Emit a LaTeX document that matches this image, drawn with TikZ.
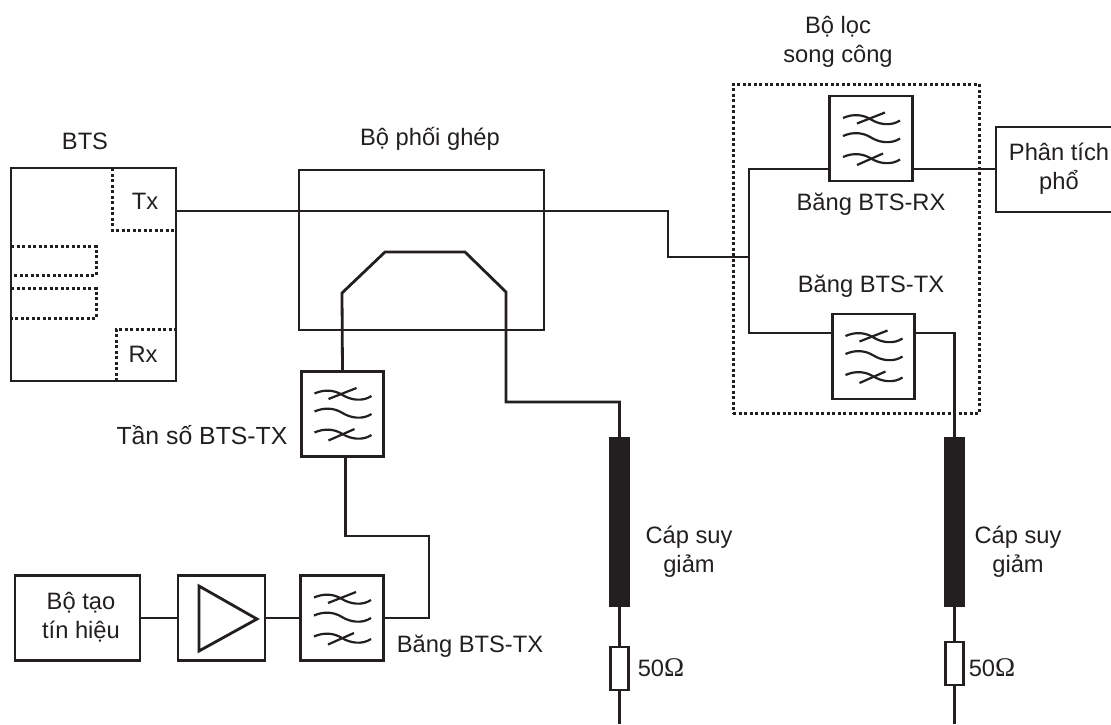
\documentclass[tikz,border=0pt]{standalone}
\usepackage{fontspec}
\setmainfont{Liberation Sans}
\newfontfamily\omegafont{Liberation Serif}
\definecolor{ink}{HTML}{231F20}
\newcommand{\ohmsign}{{\omegafont\fontsize{27}{29}\selectfont Ω}}
\tikzset{
  every node/.style={text=ink},
  line/.style={draw=ink,line width=2.8pt,line join=miter},
  dots/.style={draw=ink,line width=3pt,dash pattern=on 3pt off 2.5pt},
  box/.style={line,fill=white,rectangle,inner sep=0pt,outer sep=0pt,minimum width=#1},
  label/.style={font=\fontsize{23.7}{29}\selectfont,align=center,inner sep=0pt},
  filterbox/.style={box=82.5pt,minimum height=85pt},
  cable/.style={draw=ink,fill=ink,rectangle,inner sep=0pt,outer sep=0pt,minimum width=20pt,minimum height=169pt},
  load/.style={box=18.5pt,minimum height=43pt},
  waves/.pic={
    \foreach \dy in {-19,-1,20}{
      \draw[ink,line width=2.2pt,shift={(0,\dy)}] (-28,-1.5) .. controls (-18,-6) and (-8,-5) .. (0,0) .. controls (8,5) and (20,7) .. (29,1);
    }
    \draw[ink,line width=2.2pt] (-14,-15) -- (14,-26);
    \draw[ink,line width=2.2pt] (-14,26.5) -- (12,15);
  }
}
\begin{document}
\begin{tikzpicture}[x=1pt,y=-1pt]
\useasboundingbox (0,0) rectangle (1111,724);
% coordinates
\coordinate (txout) at (176,211);
\coordinate (bendA) at (668,211);
\coordinate (bendB) at (668,257);
\coordinate (bus) at (749,257);
\coordinate (busTop) at (749,169);
\coordinate (busBot) at (749,333);
\coordinate (cpA) at (342,293);
\coordinate (cpB) at (385,252);
\coordinate (cpC) at (465,252);
\coordinate (cpD) at (506,292);
\coordinate (cpE) at (506,402);
\coordinate (midA) at (345.5,536);
\coordinate (midB) at (429,536);
\coordinate (leftEnd) at (619.5,724);
\coordinate (rightEnd) at (954.5,724);
% coupler and BTS
\node[box=245pt,minimum height=160pt] (coupler) at (421.5,250) {};
\node[box=165pt,minimum height=213pt] (bts) at (93.5,274.5) {};
% dotted duplexer
\node[dots,rectangle,inner sep=0pt,outer sep=0pt,minimum width=246pt,minimum height=329pt] (duplexer) at (856,248.5) {};
% components
\node[filterbox] (frx) at (871,138.5) {};
\node[filterbox] (ftx) at (873.5,356.5) {};
\node[filterbox] (ffreq) at (342.5,414) {};
\node[filterbox] (fband) at (342,618) {};
\node[box=125pt,minimum height=85pt] (gen) at (77.5,618) {};
\node[box=87pt,minimum height=85pt] (amp) at (221.5,618) {};
\node[box=120pt,minimum height=85pt] (sa) at (1056,169.5) {};
\node[cable] (cableL) at (619.5,521.5) {};
\node[cable] (cableR) at (954.5,521.5) {};
\node[load] (loadL) at (619.5,668.5) {};
\node[load] (loadR) at (954.5,663.5) {};
% filter symbols
\pic at (frx) {waves};
\pic at (ftx) {waves};
\pic at (ffreq) {waves};
\pic at (fband) {waves};
% amp triangle
\draw[line] (199,586) -- (257,619) -- (199,651) -- cycle;
% BTS ports
\draw[dots] (112,168) -- (112,230) -- (176,230);
\draw[dots] (11,246.5) -- (96,246.5) -- (96,275) -- (11,275);
\draw[dots] (11,288.5) -- (96,288.5) -- (96,318) -- (11,318);
\draw[dots] (116,381) -- (116,329) -- (176,329);
% connectors
\draw[line] (txout) -- (bendA) -- (bendB) -- (bus);
\draw[line] (frx.west |- busTop) -- (busTop) -- (busBot) -- (ftx.west |- busBot);
\draw[line] (frx.east |- busTop) -- (sa.west |- busTop);
\draw[line] (ftx.east |- busBot) -- (cableR.north |- busBot) -- (cableR.north);
\draw[line] (ffreq.north) -- (cpA) -- (cpB) -- (cpC) -- (cpD) -- (cpE) -| (cableL.north);
\draw[line] (midA |- ffreq.south) -- (midA) -- (midB) |- (fband.east);
\draw[line] (gen.east) -- (amp.west);
\draw[line] (amp.east) -- (fband.west);
\draw[line] (cableL.south) -- (loadL.north);
\draw[line] (loadL.south) -- (leftEnd);
\draw[line] (cableR.south) -- (loadR.north);
\draw[line] (loadR.south) -- (rightEnd);
% labels
\node[label] (lbts) at (85,141) {BTS};
\node[label] (ltx) at (145,201) {Tx};
\node[label] (lrx) at (143,354) {Rx};
\node[label] (lcoupler) at (430,139) {Bộ phối ghép};
\node[label] (lduplexer) at (838,42) {Bộ lọc\\song công};
\node[label] (lbrx) at (871,204) {Băng BTS-RX};
\node[label] (lbtx) at (871,286) {Băng BTS-TX};
\node[label] (lsa) at (1059,169) {Phân tích\\phổ};
\node[label,font=\fontsize{24.8}{29}\selectfont] (lfreq) at (202,435) {Tần số BTS-TX};
\node[label] (lgen) at (81,617) {Bộ tạo\\tín hiệu};
\node[label] (lband) at (470,646) {Băng BTS-TX};
\node[label] (lcabL) at (689,552) {Cáp suy\\giảm};
\node[label] (lcabR) at (1018,552) {Cáp suy\\giảm};
\node[label] (lohmL) at (661,668) {50\ohmsign};
\node[label] (lohmR) at (992,668) {50\ohmsign};
\end{tikzpicture}
\end{document}
